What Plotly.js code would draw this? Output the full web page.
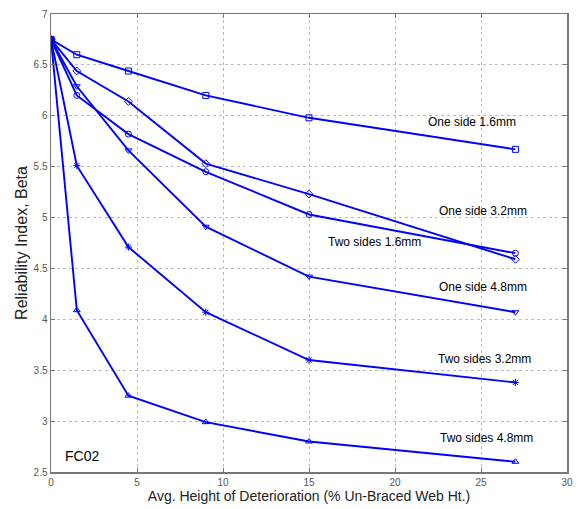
<!DOCTYPE html>
<html><head><meta charset="utf-8">
<script src="https://cdn.plot.ly/plotly-3.0.1.min.js"></script>
<style>html,body{margin:0;padding:0;background:#fff}#chart{width:578px;height:509px}</style>
</head><body><div id="chart"></div>
<script>
const xHeight = [0, 1.5, 4.5, 9, 15, 27];
const seriesNames = ["One side 1.6mm","One side 3.2mm","Two sides 1.6mm","One side 4.8mm","Two sides 3.2mm","Two sides 4.8mm"];
const oneSide16  = [6.75, 6.60, 6.44, 6.20, 5.98, 5.67];
const oneSide32  = [6.75, 6.44, 6.14, 5.53, 5.23, 4.59];
const twoSides16 = [6.75, 6.20, 5.82, 5.45, 5.03, 4.65];
const oneSide48  = [6.75, 6.29, 5.66, 4.91, 4.42, 4.07];
const twoSides32 = [6.75, 5.51, 4.71, 4.07, 3.60, 3.38];
const twoSides48 = [6.75, 4.09, 3.25, 2.99, 2.80, 2.60];
const markerSymbols = ["square-open","diamond-open","circle-open","triangle-down-open","asterisk-open","triangle-up-open"];
const labelText = ["One side 1.6mm","One side 3.2mm","Two sides 1.6mm","One side 4.8mm","Two sides 3.2mm","Two sides 4.8mm","FC02"];
const labelX = [24.5, 25.1, 18.8, 25.1, 25.2, 25.3, 1.8];
const labelY = [5.94, 5.06, 4.76, 4.32, 3.61, 2.83, 2.66];
const xTicks = [0,5,10,15,20,25,30];
const yTicks = [2.5,3,3.5,4,4.5,5,5.5,6,6.5,7];

const allY = [oneSide16, oneSide32, twoSides16, oneSide48, twoSides32, twoSides48];
const traces = allY.map((ys, i) => ({
  x: xHeight, y: ys, name: seriesNames[i], type: 'scatter', mode: 'lines+markers',
  line: {color: '#0000ff', width: 1.9},
  marker: {symbol: markerSymbols[i], size: 6, color: '#0000ff', line: {color: '#3333ff', width: 1}},
  showlegend: false
}));

const annotations = labelText.map((t, i) => ({
  x: labelX[i], y: labelY[i], xref: 'x', yref: 'y', text: t, showarrow: false,
  font: {family: 'Liberation Sans Narrow, Arial Narrow, Liberation Sans, Arial', size: i === 6 ? 14 : 12, color: '#000'}
}));

const axisCommon = {
  showgrid: true, gridcolor: '#bbbbbb', griddash: 'dot', gridwidth: 1,
  zeroline: false, showline: true, linecolor: '#777', linewidth: 1.5, mirror: 'ticks',
  ticks: 'inside', ticklen: 4, tickcolor: '#777',
  tickfont: {family: 'Liberation Sans Narrow, Arial Narrow, Liberation Sans', size: 10, color: '#555'}
};

const layout = {
  width: 578, height: 509,
  margin: {l: 51, r: 11, t: 14, b: 37},
  paper_bgcolor: '#fff', plot_bgcolor: '#fff',
  xaxis: Object.assign({}, axisCommon, {
    range: [0, 30], tickvals: xTicks, ticktext: xTicks.map(String),
    title: {text: 'Avg. Height of Deterioration (% Un-Braced Web Ht.)', standoff: 4,
      font: {family: 'Liberation Sans, Arial', size: 14, color: '#222'}}
  }),
  yaxis: Object.assign({}, axisCommon, {
    range: [2.5, 7], tickvals: yTicks, ticktext: yTicks.map(String),
    title: {text: 'Reliability Index, Beta', standoff: 2,
      font: {family: 'Liberation Sans, Arial', size: 16, color: '#222'}}
  }),
  annotations: annotations
};

Plotly.newPlot('chart', traces, layout, {displayModeBar: false, staticPlot: true});
</script></body></html>
